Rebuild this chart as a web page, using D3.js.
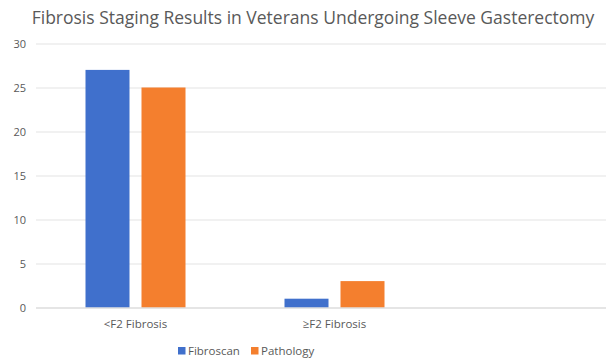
<!DOCTYPE html>
<html>
<head>
<meta charset="utf-8">
<script src="https://cdn.jsdelivr.net/npm/d3@7"></script>
<style>
  html, body { margin: 0; padding: 0; background: #fff; }
  svg { display: block; font-family: "Open Sans", "Liberation Sans", sans-serif; }
</style>
</head>
<body>
<svg id="chart" width="606" height="358"></svg>
<script>
// Chart data
const categories = ["<F2 Fibrosis", "≥F2 Fibrosis", ""];
const seriesNames = ["Fibroscan", "Pathology"];
const fibroscan = [27, 1, null];
const pathology = [25, 3, null];
const yTicks = [0, 5, 10, 15, 20, 25, 30];
const colors = ["#4070CC", "#F47F2E"];

const svg = d3.select("#chart");
const W = 606, H = 358;

// Plot area (third category slot is left empty and runs off the right edge)
const plotLeft = 36, plotTop = 43.5, plotBottom = 307.5;
const bandStep = 199;

const x0 = d3.scaleBand()
  .domain(categories)
  .range([plotLeft, plotLeft + bandStep * categories.length])
  .padding(0);

const x1 = d3.scaleBand()
  .domain(seriesNames)
  .range([-50, 50])
  .paddingInner(12 / 56)
  .paddingOuter(0);

const y = d3.scaleLinear().domain([0, 30]).range([plotBottom, plotTop]);

// Title
svg.append("text")
  .attr("x", 313)
  .attr("y", 24)
  .attr("text-anchor", "middle")
  .attr("font-size", 17.5)
  .attr("fill", "#595959")
  .text("Fibrosis Staging Results in Veterans Undergoing Sleeve Gasterectomy");

// Gridlines and y labels
const yAxis = d3.axisLeft(y)
  .tickValues(yTicks)
  .tickSize(-(W - plotLeft))
  .tickPadding(10)
  .tickFormat(d3.format("d"));

const gy = svg.append("g")
  .attr("transform", `translate(${plotLeft},0)`)
  .call(yAxis);
gy.select(".domain").remove();
gy.selectAll(".tick line").attr("stroke", "#e3e3e3").attr("stroke-width", 1);
gy.selectAll(".tick text")
  .attr("fill", "#595959")
  .attr("font-size", 11)
  .attr("font-family", "\"Open Sans\", sans-serif");

// Bars
const rows = categories.map((c, i) => ({ cat: c, vals: [fibroscan[i], pathology[i]] }));
const groups = svg.append("g").selectAll("g")
  .data(rows)
  .join("g")
  .attr("transform", d => `translate(${x0(d.cat) + x0.bandwidth() / 2},0)`);

groups.selectAll("rect")
  .data(d => d.vals.map((v, j) => ({ key: seriesNames[j], value: v, j })).filter(e => e.value != null))
  .join("rect")
  .attr("x", d => x1(d.key))
  .attr("width", x1.bandwidth())
  .attr("y", d => y(d.value))
  .attr("height", d => y(0) - y(d.value))
  .attr("fill", d => colors[d.j]);

// Category axis
const xAxis = d3.axisBottom(x0).tickSize(0).tickPadding(12);
const gx = svg.append("g")
  .attr("transform", `translate(0,${plotBottom})`)
  .call(xAxis);
gx.select(".domain").attr("stroke", "#d9d9d9").attr("d", `M${plotLeft},0.5H${W}`);
gx.selectAll(".tick text")
  .attr("fill", "#595959")
  .attr("font-size", 11.5)
  .attr("font-family", "\"Open Sans\", sans-serif");

// Legend
const legend = svg.append("g").attr("transform", "translate(178,355)");
const legendX = [0, 73];
seriesNames.forEach((name, i) => {
  const g = legend.append("g").attr("transform", `translate(${legendX[i]},0)`);
  g.append("rect").attr("x", 0).attr("y", -8).attr("width", 7.5).attr("height", 7.5).attr("fill", colors[i]);
  g.append("text")
    .attr("x", 10)
    .attr("y", 0)
    .attr("font-size", 11.5)
    .attr("fill", "#595959")
    .text(name);
});
</script>
</body>
</html>
